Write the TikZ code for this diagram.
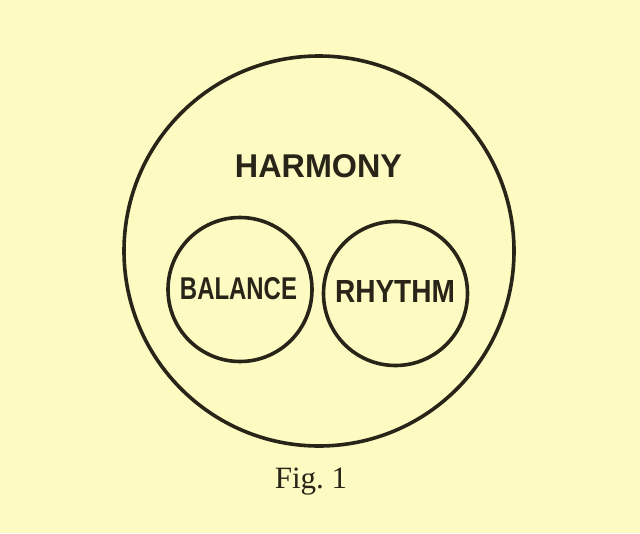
\documentclass[tikz,border=0pt]{standalone}
\usepackage{fontspec}
\usepackage{graphicx}
\setmainfont{Liberation Serif}
\newfontfamily\letterfont{Liberation Sans}
\definecolor{paper}{RGB}{253,251,194}
\definecolor{ink}{RGB}{40,36,24}
\begin{document}
\begin{tikzpicture}[x=1pt,y=-1pt,
  ring/.style={circle,draw=ink,line width=3.6pt,inner sep=0pt},
  letters/.style={inner sep=0pt,text=ink,font=\letterfont\bfseries}]
\fill[paper] (0,0) rectangle (640,533);
\useasboundingbox (0,0) rectangle (640,533);
\node[ring,minimum size=390pt] (harmonyc) at (319,251) {};
\node[ring,minimum size=144pt] (balancec) at (240,289.5) {};
\node[ring,minimum size=144pt] (rhythmc) at (395.5,293.5) {};
\node[letters] (harmony) at (318.5,166.5) {\resizebox{167pt}{23pt}{HARMONY}};
\node[letters] (balance) at (238.5,289) {\resizebox{117pt}{22pt}{BALANCE}};
\node[letters] (rhythm) at (395,291) {\resizebox{120pt}{22pt}{RHYTHM}};
\node[inner sep=0pt,text=ink,anchor=base,font=\fontsize{31}{33}\selectfont] (fig) at (311,488) {Fig.~1};
\end{tikzpicture}
\end{document}
